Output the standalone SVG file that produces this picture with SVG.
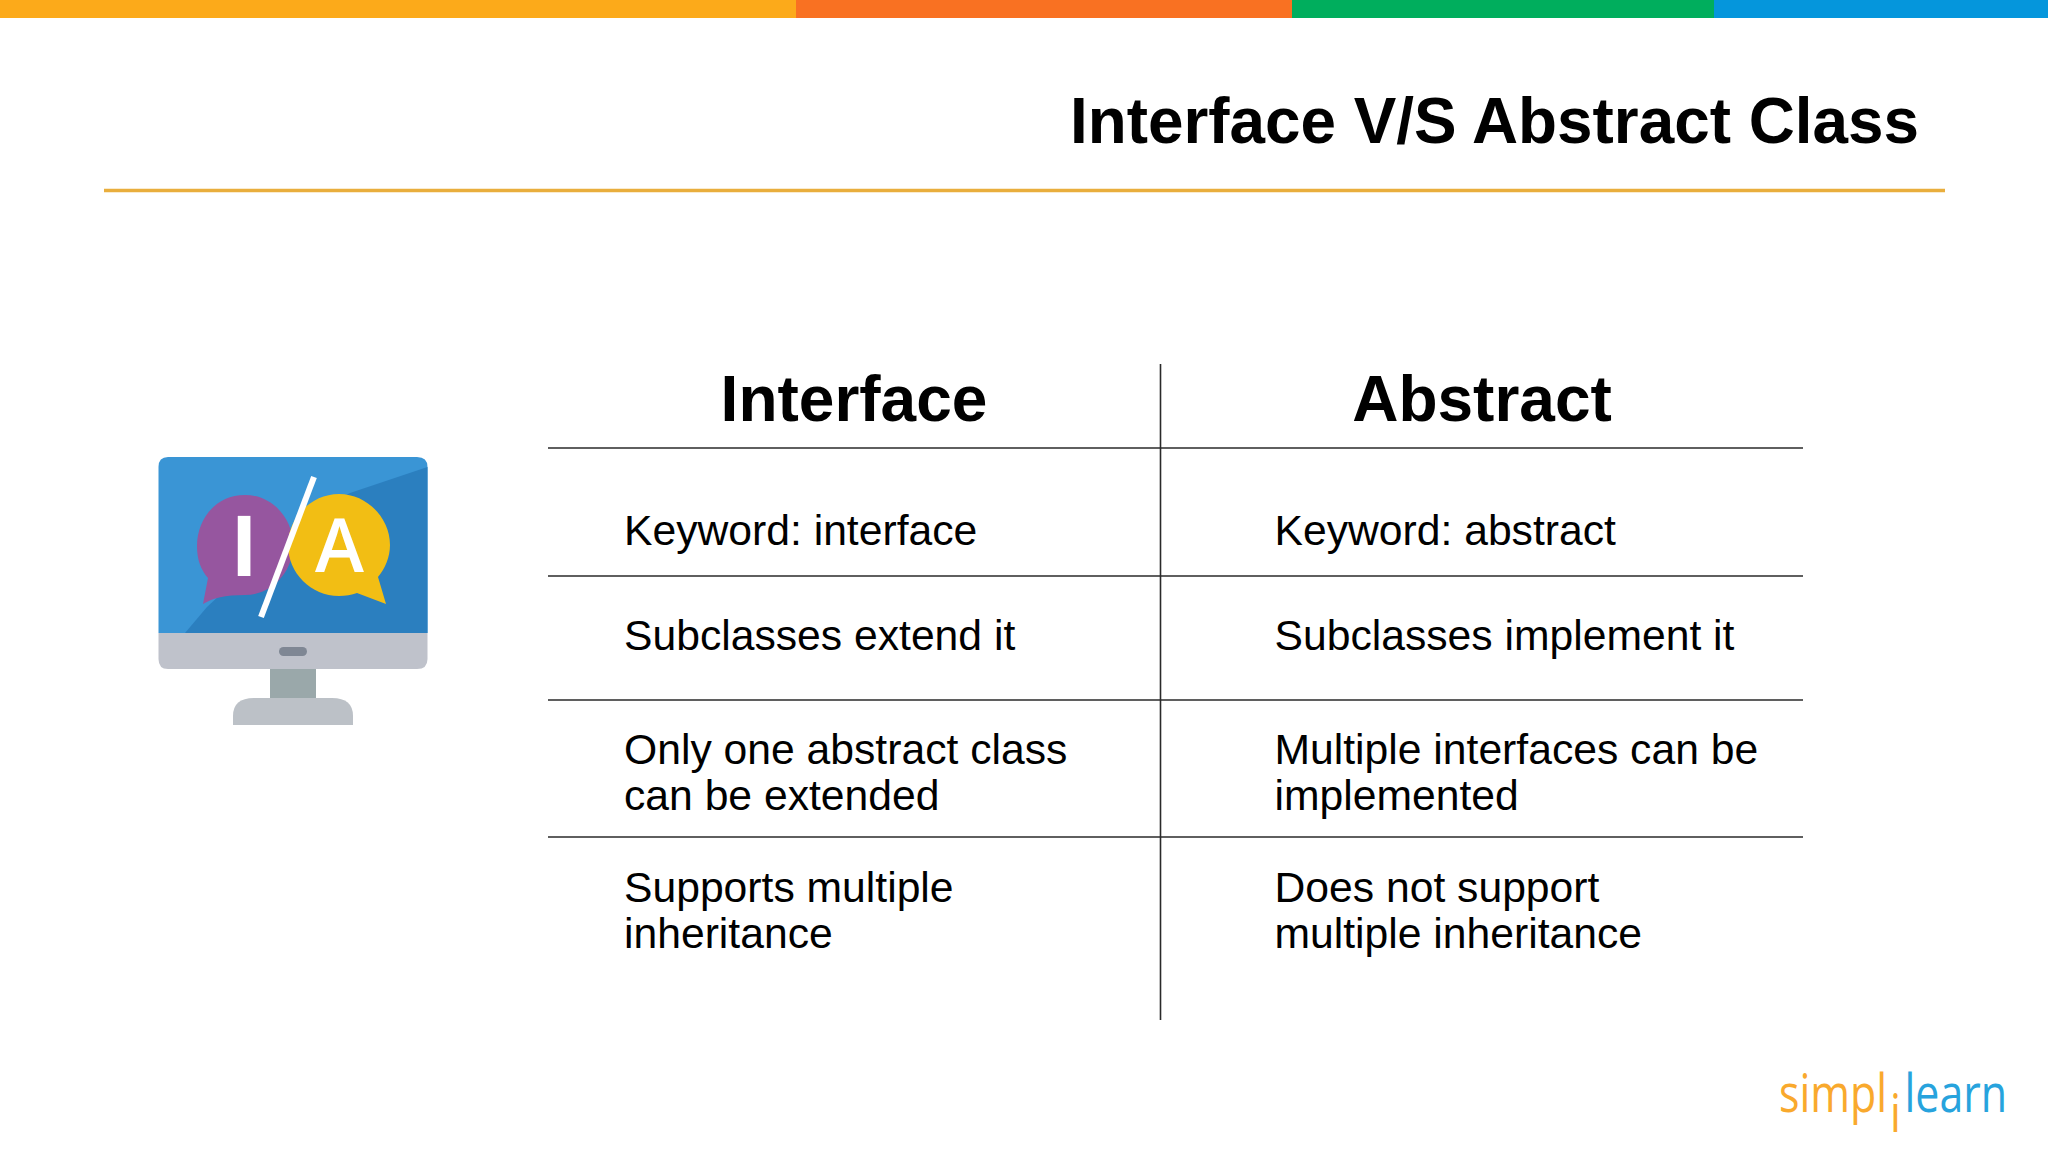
<svg xmlns="http://www.w3.org/2000/svg" width="2048" height="1152" viewBox="0 0 2048 1152">
<style>
text{font-family:"Liberation Sans",Arial,sans-serif;fill:#000}
.h{font-size:64px;font-weight:700}
.b{font-size:42.67px}
.r{stroke:#2a2a2a;stroke-width:1.6;fill:none}
.logo{font-family:"Open Sans","Noto Sans",sans-serif;font-size:53px;font-weight:500}
</style>
<rect width="2048" height="1152" fill="#fff"/>
<g id="top-bar">
<rect x="0" y="0" width="796" height="18" fill="#fcaa1a"/>
<rect x="796" y="0" width="496" height="18" fill="#f97122"/>
<rect x="1292" y="0" width="422" height="18" fill="#00ae5d"/>
<rect x="1714" y="0" width="334" height="18" fill="#0596dc"/>
</g>
<g id="title">
<text class="h" x="1919" y="143" text-anchor="end" textLength="849" lengthAdjust="spacingAndGlyphs">Interface V/S Abstract Class</text>
<line x1="104" y1="190.500" x2="1945" y2="190.500" stroke="#e9ae3d" stroke-width="3.500"/>
</g>
<g id="icon">
<path d="M168 457H417Q427.500 457 427.500 467V633H158.500V467Q158.500 457 168 457Z" fill="#3a95d5"/>
<path d="M185 633L207 607L300 520L350 493L427.500 467V633Z" fill="#2b7fbf"/>
<path d="M158.500 633H427.500V659Q427.500 669 417 669H168Q158.500 669 158.500 659Z" fill="#bfc2cb"/>
<rect x="279" y="647" width="28" height="9" rx="4.500" fill="#7f8794"/>
<rect x="270" y="669" width="46" height="30" fill="#9aa8aa"/>
<path d="M233 725V716Q233 698 254 698H332Q353 698 353 716V725Z" fill="#bcc1c7"/>
<path d="M245 495C215 495 197 520 197 546C197 560 201 570 208 578L203 604C213 598 225 595 245 595C272 595 293 572 293 545C293 518 272 495 245 495Z" fill="#96569f"/>
<path d="M339 494C311 494 288 518 288 545C288 573 311 596 339 596C345 596 352 595 357 593L386 604L378 577C385 569 390 557 390 545C390 518 367 494 339 494Z" fill="#f2be14"/>
<text x="244" y="576" text-anchor="middle" style="font-size:87px;font-weight:700;fill:#fff">I</text>
<text x="339.500" y="572" text-anchor="middle" style="font-family:'Open Sans',sans-serif;font-size:74px;font-weight:600;fill:#fff">A</text>
<line x1="314" y1="477" x2="261" y2="617" stroke="#fff" stroke-width="6"/>
</g>
<g id="table-lines">
<line class="r" x1="1160.500" y1="364" x2="1160.500" y2="1020"/>
<line class="r" x1="548" y1="448" x2="1803" y2="448"/>
<line class="r" x1="548" y1="576" x2="1803" y2="576"/>
<line class="r" x1="548" y1="700" x2="1803" y2="700"/>
<line class="r" x1="548" y1="837" x2="1803" y2="837"/>
</g>
<g id="interface-column">
<text class="h" x="854" y="421" text-anchor="middle">Interface</text>
<text class="b" x="624" y="544.500">Keyword: interface</text>
<text class="b" x="624" y="650">Subclasses extend it</text>
<text class="b" x="624" y="764">Only one abstract class</text>
<text class="b" x="624" y="810">can be extended</text>
<text class="b" x="624" y="902">Supports multiple</text>
<text class="b" x="624" y="948">inheritance</text>
</g>
<g id="abstract-column">
<text class="h" x="1482" y="421" text-anchor="middle">Abstract</text>
<text class="b" x="1274.500" y="544.500">Keyword: abstract</text>
<text class="b" x="1274.500" y="650">Subclasses implement it</text>
<text class="b" x="1274.500" y="764">Multiple interfaces can be</text>
<text class="b" x="1274.500" y="810">implemented</text>
<text class="b" x="1274.500" y="902">Does not support</text>
<text class="b" x="1274.500" y="948">multiple inheritance</text>
</g>
<g id="logo">
<text class="logo" transform="translate(1779 1112) scale(.81 1)" style="fill:#f9a92d">simpl<tspan x="137" y="20">i</tspan><tspan x="155" y="0" style="fill:#27a3dd">learn</tspan></text>
</g>
</svg>
